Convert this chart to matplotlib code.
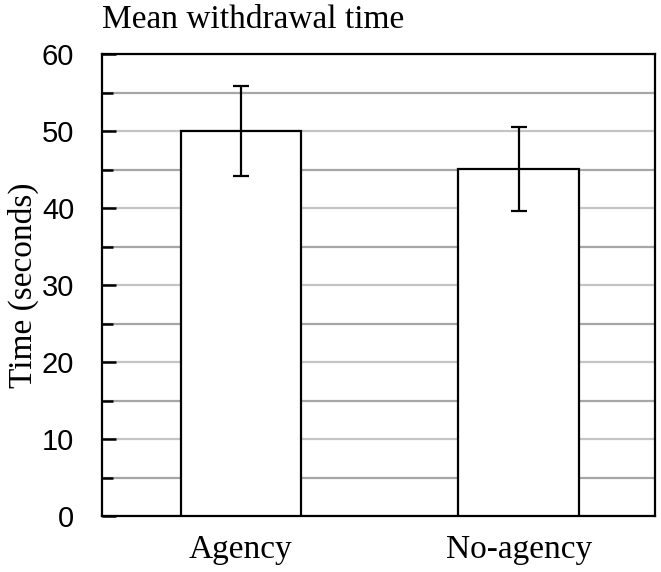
import matplotlib.pyplot as plt
from matplotlib.ticker import MultipleLocator

conditions = ['Agency', 'No-agency']
mean_time = [50.0, 45.1]
error = [5.8, 5.45]

fig = plt.figure(figsize=(6.61, 5.72), dpi=100)
ax = fig.add_axes([102 / 661, 1 - 516 / 572, 553 / 661, 462 / 572])

ax.bar(range(len(conditions)), mean_time, width=0.435, color='white',
       edgecolor='black', linewidth=1.6, zorder=3)
ax.errorbar(range(len(conditions)), mean_time, yerr=error, fmt='none',
            ecolor='black', elinewidth=1.6, capsize=5.5, capthick=1.6, zorder=4)

ax.set_xlim(-0.5, 1.49)
ax.set_ylim(0, 60)
ax.yaxis.set_major_locator(MultipleLocator(10))
ax.yaxis.set_minor_locator(MultipleLocator(5))
ax.grid(True, axis='y', which='major', color='#c4c4c4', linewidth=1.6, zorder=0)
ax.grid(True, axis='y', which='minor', color='#a6a6a6', linewidth=1.6, zorder=0)
ax.tick_params(axis='y', which='major', direction='in', length=10, width=1.8,
               labelsize=21, pad=20)
ax.tick_params(axis='y', which='minor', direction='in', length=8, width=1.8)
ax.tick_params(axis='x', length=0, pad=13)
for lab in ax.get_yticklabels():
    lab.set_family('Liberation Sans')
ax.set_xticks(range(len(conditions)))
ax.set_xticklabels(conditions, family='Liberation Serif', fontsize=24)
for s in ax.spines.values():
    s.set_linewidth(1.6)

ax.set_ylabel('Time (seconds)', family='Liberation Serif', fontsize=24, labelpad=2)
fig.text(102 / 661, 1 - 28 / 572, 'Mean withdrawal time', family='Liberation Serif',
         fontsize=24, ha='left', va='baseline')

fig.savefig('out.png', dpi=100)
